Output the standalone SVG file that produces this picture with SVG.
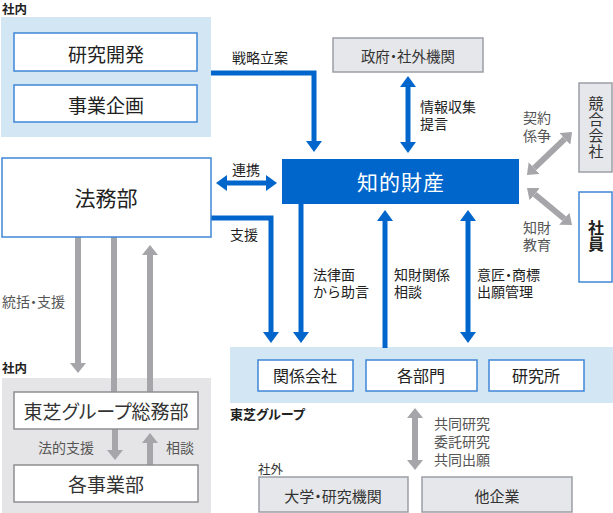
<svg xmlns="http://www.w3.org/2000/svg" width="613" height="513" viewBox="0 0 613 513">
<defs>
<style>
text{font-family:"Noto Sans CJK JP","Noto Sans",sans-serif;dominant-baseline:central;fill:#222}
.box{fill:#fff;stroke:#3f86d6;stroke-width:1.5}
.gbox{fill:#e6e7ea;stroke:#9a9ea5;stroke-width:1.5}
.wbox{fill:#fff;stroke:#8e8e93;stroke-width:1.5}
.big{font-size:19px;text-anchor:middle}
.mid{font-size:16px;text-anchor:middle}
.lbl{font-size:14px}
.glbl{font-size:14px;fill:#555}
.sec{font-size:12.5px;font-weight:bold}
.p{font-feature-settings:"palt"}
.vt{writing-mode:vertical-rl;text-anchor:middle}
.bl{fill:none;stroke:#0066cc;stroke-width:5}
.gl{fill:none;stroke:#a5a5aa;stroke-width:6}
</style>
<marker id="ab" markerUnits="userSpaceOnUse" markerWidth="12" markerHeight="16" refX="0" refY="8" orient="auto-start-reverse" viewBox="0 0 12 16"><path d="M0,0 L11,8 L0,16 z" fill="#0066cc"/></marker>
<marker id="ag" markerUnits="userSpaceOnUse" markerWidth="11" markerHeight="16" refX="0" refY="8" orient="auto-start-reverse" viewBox="0 0 11 16"><path d="M0,0 L10,8 L0,16 z" fill="#a5a5aa"/></marker>
</defs>

<!-- backgrounds -->
<rect x="1" y="17" width="210" height="120" fill="#d3e6f4"/>
<rect x="2" y="378" width="209" height="135" fill="#e5e5e7"/>
<rect x="230" y="347" width="383" height="56" fill="#d3e6f4"/>

<g id="connectors">
<path class="bl" d="M211,73 H314 V141" marker-end="url(#ab)"/>
<path class="bl" d="M408,87 V142" marker-start="url(#ab)" marker-end="url(#ab)"/>
<path class="bl" d="M227,183 H266" marker-start="url(#ab)" marker-end="url(#ab)"/>
<path class="bl" d="M211,218 H271 V332" marker-end="url(#ab)"/>
<path class="bl" d="M301,204 V332" marker-end="url(#ab)"/>
<path class="bl" d="M385,348 V221" marker-end="url(#ab)"/>
<path class="bl" d="M468,221 V332" marker-start="url(#ab)" marker-end="url(#ab)"/>
<path class="gl" d="M534.2,168.1 L564.8,138.9" marker-start="url(#ag)" marker-end="url(#ag)"/>
<path class="gl" d="M534.7,194.3 L564.3,218.7" marker-start="url(#ag)" marker-end="url(#ag)"/>
<path class="gl" d="M78,237 V363" marker-end="url(#ag)"/>
<path class="gl" d="M114,237 V392"/>
<path class="gl" d="M150,392 V255" marker-end="url(#ag)"/>
<path class="gl" d="M115,429 V450" marker-end="url(#ag)"/>
<path class="gl" d="M150,465 V443" marker-end="url(#ag)"/>
<path class="gl" d="M415,418 V460" marker-start="url(#ag)" marker-end="url(#ag)"/>
</g>

<g id="labels">
<text class="sec" x="2" y="8.5">社内</text>
<text class="sec" x="2" y="367">社内</text>
<text class="sec p" x="230" y="413" style="font-size:13px">東芝グループ</text>
<text class="sec" x="258" y="468" style="font-weight:normal;fill:#333">社外</text>
<text class="lbl" x="232" y="57">戦略立案</text>
<text class="lbl" x="232" y="169">連携</text>
<text class="lbl" x="230" y="234">支援</text>
<text class="lbl" x="420" y="106">情報収集<tspan x="420" dy="17">提言</tspan></text>
<text class="lbl" x="313" y="274">法律面<tspan x="313" dy="17">から助言</tspan></text>
<text class="lbl" x="394" y="274">知財関係<tspan x="394" dy="17">相談</tspan></text>
<text class="lbl p" x="477" y="274">意匠・商標<tspan x="477" dy="17">出願管理</tspan></text>
<text class="glbl" x="523" y="117">契約<tspan x="523" dy="18">係争</tspan></text>
<text class="glbl" x="523" y="227">知財<tspan x="523" dy="17">教育</tspan></text>
<text class="glbl p" x="2" y="301">統括・支援</text>
<text class="glbl" x="38" y="447">法的支援</text>
<text class="glbl" x="166" y="447">相談</text>
<text class="glbl" x="434" y="423">共同研究<tspan x="434" dy="18">委託研究</tspan><tspan x="434" dy="18">共同出願</tspan></text>
</g>

<g id="n-kenkyu"><rect class="box" x="14" y="33" width="183" height="38"/><text class="big" x="106" y="53">研究開発</text></g>
<g id="n-jigyo"><rect class="box" x="14" y="85" width="183" height="37"/><text class="big" x="106" y="104">事業企画</text></g>
<g id="n-homu"><rect class="box" x="2" y="158" width="209" height="79"/><text class="big" x="106" y="197" style="font-size:21px">法務部</text></g>
<g id="n-chizai"><rect x="282" y="159" width="237" height="45" fill="#0066cc"/><text x="401" y="181" style="font-size:21px;text-anchor:middle;fill:#fff;letter-spacing:1px">知的財産</text></g>
<g id="n-seifu"><rect class="gbox" x="333" y="38" width="150" height="34"/><text class="mid p" x="408" y="55" style="font-size:14.5px;fill:#333">政府・社外機関</text></g>
<g id="n-kyogo"><rect class="gbox" x="579" y="83" width="33" height="89"/>
<text class="vt" x="596" y="128" style="font-size:15px;fill:#333;letter-spacing:1px">競合会社</text></g>
<g id="n-shain"><rect class="box" x="579" y="192" width="33" height="90"/>
<text class="vt" x="596" y="236" style="font-size:16px;font-weight:bold">社員</text></g>
<g id="n-kankei"><rect class="box" x="258" y="360" width="95" height="31"/><text class="mid" x="305" y="375">関係会社</text></g>
<g id="n-kakubumon"><rect class="box" x="366" y="360" width="111" height="31"/><text class="mid" x="421" y="375">各部門</text></g>
<g id="n-kenkyusho"><rect class="box" x="489" y="360" width="95" height="31"/><text class="mid" x="536" y="375">研究所</text></g>
<g id="n-somu"><rect class="wbox" x="14" y="392" width="184" height="37"/><text class="big p" x="106" y="410" style="fill:#333">東芝グループ総務部</text></g>
<g id="n-jigyobu"><rect class="wbox" x="14" y="465" width="184" height="37"/><text class="big" x="106" y="483" style="fill:#333">各事業部</text></g>
<g id="n-daigaku"><rect class="gbox" x="259" y="477" width="149" height="35"/><text class="mid p" x="333" y="495" style="font-size:15px;fill:#333">大学・研究機関</text></g>
<g id="n-takigyo"><rect class="gbox" x="422" y="477" width="150" height="35"/><text class="mid" x="497" y="495" style="font-size:15px;fill:#333">他企業</text></g>
</svg>
